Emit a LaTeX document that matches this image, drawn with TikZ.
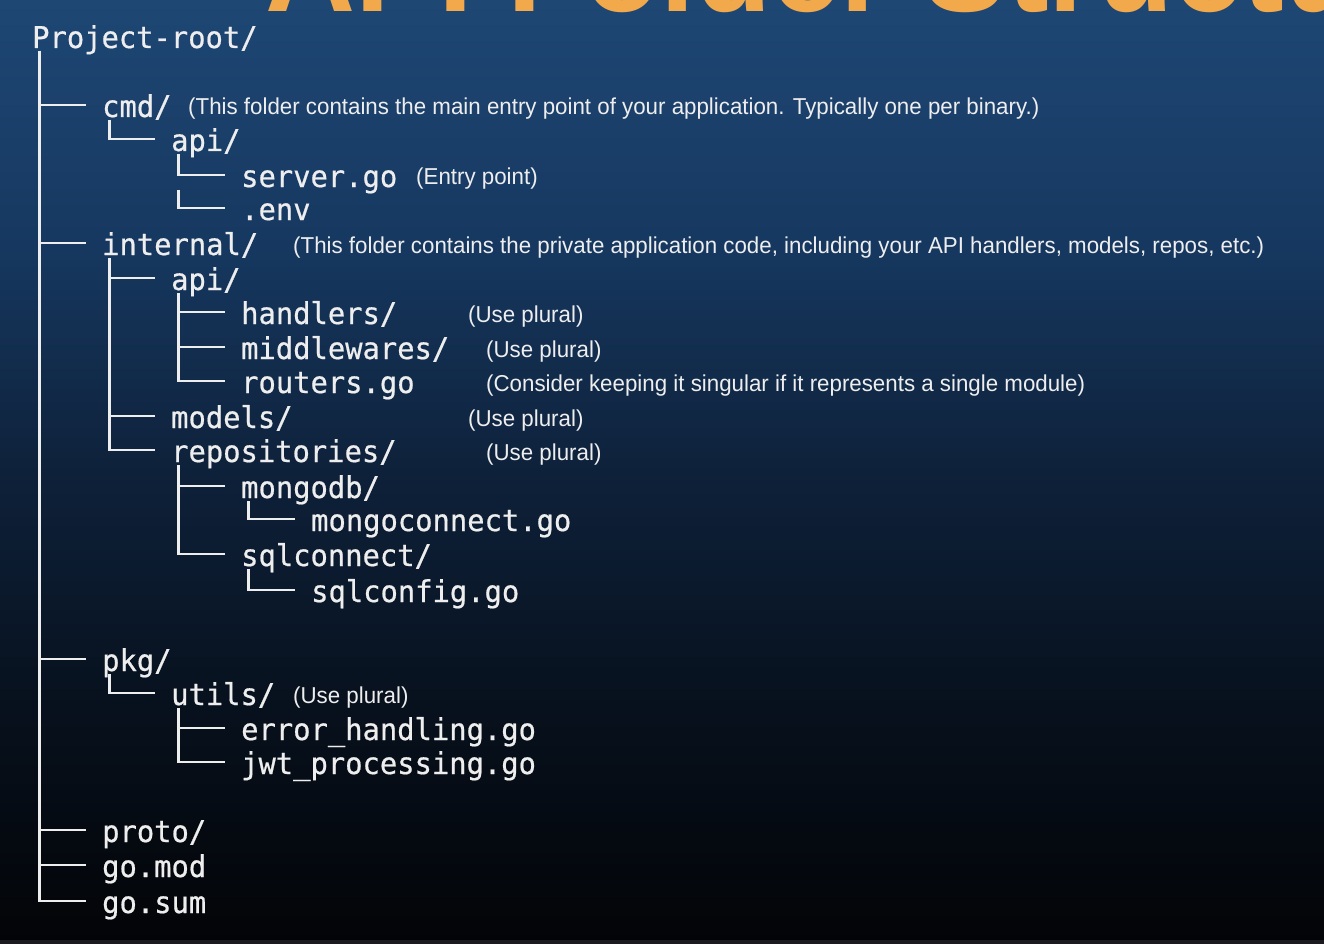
\documentclass[tikz,border=0pt]{standalone}
\usepackage{fontspec}
\usepackage{tikz}
\usetikzlibrary{positioning}

\newfontfamily\treefont{DejaVu Sans Mono}[FakeStretch=0.96,FakeBold=0.6]
\newfontfamily\notefont{Liberation Sans}[FakeStretch=0.97]
\newfontfamily\titlefont{Liberation Sans}[FakeStretch=0.96]

\definecolor{titleorange}{HTML}{F2A94B}
\definecolor{treewhite}{HTML}{EEEEEE}
\definecolor{bgzero}{HTML}{030407}
\definecolor{bgone}{HTML}{07101C}
\definecolor{bgtwo}{HTML}{0E213A}
\definecolor{bgthree}{HTML}{163860}
\definecolor{bgfour}{HTML}{1E4774}
\definecolor{stripgray}{HTML}{1B1B1F}

\pgfdeclareverticalshading{bgfade}{100bp}{color(0bp)=(bgzero); color(25bp)=(bgzero); color(37bp)=(bgone); color(50bp)=(bgtwo); color(62bp)=(bgthree); color(75bp)=(bgfour); color(100bp)=(bgfour)}

\tikzset{
  item/.style={anchor=base west, inner sep=0pt, text=treewhite, font=\treefont\fontsize{30}{36}\selectfont},
  note/.style={anchor=base west, inner sep=0pt, text=treewhite, font=\notefont\fontsize{23}{28}\selectfont},
  branch/.style={draw=treewhite, line width=2.4pt}
}

\begin{document}
\begin{tikzpicture}[x=1pt,y=-1pt]
    % Background
    \useasboundingbox (0,0) rectangle (1324,944);
    \clip (0,0) rectangle (1324,944);
    \shade[shading=bgfade] (0,0) rectangle (1324,944);
    \fill[stripgray] (0,940) rectangle (1324,944);

    % Title (cut off at the top)
    \node[anchor=base west, inner sep=0pt, text=titleorange, font=\titlefont\bfseries\fontsize{130}{130}\selectfont] (title) at (265,12) {API Folder Structure};

    % Folder tree
    \node[item] (root) at (32,48) {Project-root/};
    \node[item] (cmd) at (102,117) {cmd/};
    \node[item] (cmdapi) at (171,151) {api/};
    \node[item] (server) at (241,187) {server.go};
    \node[item] (env) at (241,220) {.env};
    \node[item] (internal) at (102,255) {internal/};
    \node[item] (intapi) at (171,290) {api/};
    \node[item] (handlers) at (241,324) {handlers/};
    \node[item] (middlewares) at (241,359) {middlewares/};
    \node[item] (routers) at (241,393) {routers.go};
    \node[item] (models) at (171,428) {models/};
    \node[item] (repos) at (171,462) {repositories/};
    \node[item] (mongodb) at (241,498) {mongodb/};
    \node[item] (mongoconn) at (311,531) {mongoconnect.go};
    \node[item] (sqlconn) at (241,566) {sqlconnect/};
    \node[item] (sqlconfig) at (311,602) {sqlconfig.go};
    \node[item] (pkg) at (102,671) {pkg/};
    \node[item] (utils) at (171,705) {utils/};
    \node[item] (errh) at (241,740) {error\_handling.go};
    \node[item] (jwtp) at (241,774) {jwt\_processing.go};
    \node[item] (proto) at (102,842) {proto/};
    \node[item] (gomod) at (102,877) {go.mod};
    \node[item] (gosum) at (102,913) {go.sum};

    % Branches
    \foreach \p/\c in {root/cmd, root/internal, root/pkg, root/proto, root/gomod, root/gosum,
                       cmd/cmdapi, cmdapi/server,
                       internal/intapi, internal/models, internal/repos,
                       intapi/handlers, intapi/middlewares, intapi/routers,
                       repos/mongodb, repos/sqlconn, mongodb/mongoconn, sqlconn/sqlconfig,
                       pkg/utils, utils/errh, utils/jwtp} {
      \draw[branch] ([xshift=7.5pt,yshift=-3pt]\p.base west) |- ([xshift=-16pt,yshift=12pt]\c.base west);
    }
    \draw[branch] ([xshift=-62.5pt,yshift=-3pt]server.base west) |- ([xshift=-16pt,yshift=12pt]env.base west);

    % Notes
    \node[note] (n-cmd) at (188,115) {(This folder contains the main entry point of your application. Typically one per binary.)};
    \node[note] (n-server) at (416,185) {(Entry point)};
    \node[note] (n-internal) at (293,253) {(This folder contains the private application code, including your API handlers, models, repos, etc.)};
    \node[note] (n-handlers) at (468,322) {(Use plural)};
    \node[note] (n-middlewares) at (486,357) {(Use plural)};
    \node[note] (n-routers) at (486,391) {(Consider keeping it singular if it represents a single module)};
    \node[note] (n-models) at (468,426) {(Use plural)};
    \node[note] (n-repos) at (486,460) {(Use plural)};
    \node[note] (n-utils) at (293,703) {(Use plural)};
\end{tikzpicture}
\end{document}
